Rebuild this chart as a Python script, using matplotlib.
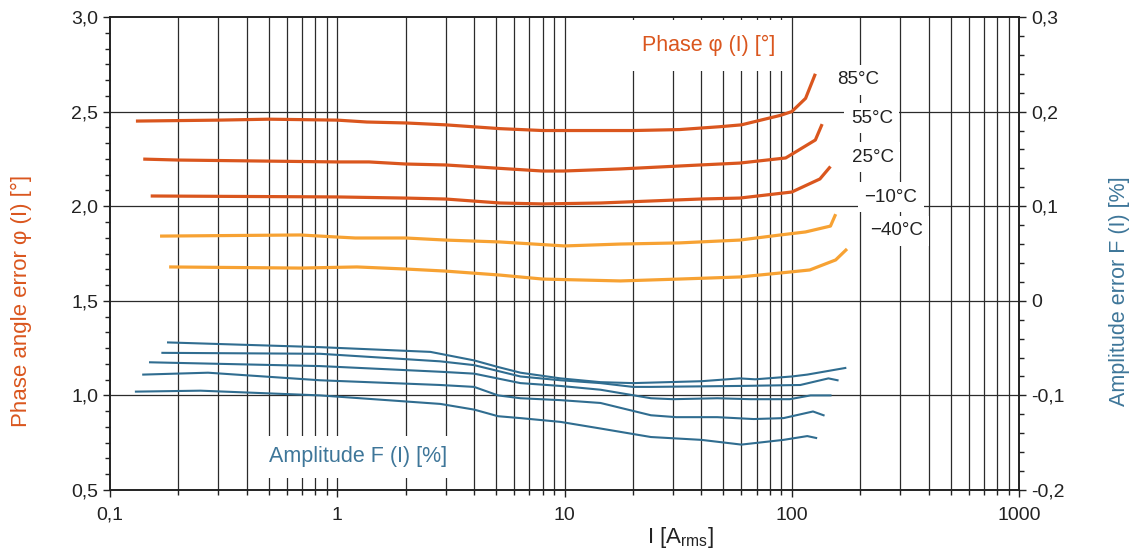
import matplotlib
matplotlib.use("Agg")
import matplotlib.pyplot as plt
import numpy as np
from matplotlib.ticker import FixedLocator, FuncFormatter, MultipleLocator, NullFormatter

plt.rcParams['font.family'] = ['Liberation Sans', 'DejaVu Sans']

# phase angle error curves (left axis, degrees)
i_85 = [0.13, 0.3, 0.5, 1.0, 1.35, 2, 3, 5.2, 8, 20, 32, 48, 60, 89, 100, 115, 127]
phi_85 = [2.45, 2.455, 2.46, 2.455, 2.445, 2.44, 2.43, 2.41, 2.40, 2.40, 2.405, 2.42, 2.43, 2.48, 2.50, 2.57, 2.70]

i_55 = [0.14, 0.2, 1.0, 1.38, 2, 3, 5.2, 8, 9.9, 17.6, 39.6, 59, 94, 127, 136]
phi_55 = [2.249, 2.244, 2.234, 2.234, 2.223, 2.218, 2.20, 2.186, 2.186, 2.197, 2.218, 2.228, 2.255, 2.35, 2.434]

i_25 = [0.151, 1.0, 2.0, 3, 5.2, 8, 14.4, 39.6, 59, 100, 133, 148]
phi_25 = [2.054, 2.049, 2.043, 2.038, 2.017, 2.012, 2.017, 2.038, 2.043, 2.075, 2.144, 2.21]

i_m10 = [0.166, 0.686, 1.0, 1.2, 2, 3, 5.2, 10, 17.6, 32, 59, 89, 115, 148, 156]
phi_m10 = [1.842, 1.848, 1.837, 1.832, 1.832, 1.821, 1.811, 1.79, 1.80, 1.806, 1.821, 1.848, 1.864, 1.895, 1.958]

i_m40 = [0.182, 0.686, 1.22, 2, 3, 5.2, 8, 17.6, 32, 59, 89, 120, 156, 175]
phi_m40 = [1.679, 1.673, 1.679, 1.668, 1.657, 1.636, 1.615, 1.605, 1.615, 1.626, 1.647, 1.663, 1.716, 1.774]

# amplitude error curves (right axis, %)
i_a = [0.18, 0.84, 2.57, 4.0, 5.1, 6.4, 9.6, 14.4, 20, 40, 59, 69, 100, 117, 172]
f_a = [-0.044, -0.049, -0.054, -0.063, -0.070, -0.076, -0.082, -0.086, -0.087, -0.085, -0.082, -0.083, -0.080, -0.078, -0.071]

i_b = [0.17, 0.84, 2.84, 4.0, 6.4, 9.6, 14.4, 20, 24, 59, 109, 145, 159]
f_b = [-0.055, -0.056, -0.064, -0.068, -0.080, -0.084, -0.087, -0.091, -0.091, -0.090, -0.089, -0.082, -0.084]

i_c = [0.15, 0.84, 2.84, 4.0, 6.4, 9.6, 14.4, 24, 30, 47, 66, 98, 121, 148]
f_c = [-0.065, -0.069, -0.075, -0.077, -0.087, -0.090, -0.094, -0.103, -0.104, -0.103, -0.104, -0.104, -0.100, -0.100]

i_d = [0.14, 0.27, 0.84, 2.84, 4.0, 5.1, 6.4, 9.6, 14.4, 24, 31, 47, 68, 92, 124, 138]
f_d = [-0.078, -0.076, -0.084, -0.089, -0.091, -0.100, -0.103, -0.105, -0.108, -0.121, -0.123, -0.123, -0.125, -0.124, -0.117, -0.121]

i_e = [0.13, 0.25, 0.84, 2.84, 4.0, 5.1, 6.4, 9.6, 14.4, 24, 40, 60, 92, 117, 128]
f_e = [-0.096, -0.095, -0.100, -0.109, -0.115, -0.122, -0.124, -0.128, -0.135, -0.144, -0.147, -0.152, -0.147, -0.143, -0.145]

temp_labels = ["85°C", "55°C", "25°C", "\u221210°C", "\u221240°C"]
x_ticks = [0.1, 1, 10, 100, 1000]
x_ticklabels = ["0,1", "1", "10", "100", "1000"]

DARK_OR = '#DA561E'
LIGHT_OR = '#F7A233'
BLUE = '#306D90'
BLUE_TXT = '#3E7699'
GRID = '#2b2b2b'

fig = plt.figure(figsize=(11.32, 5.56), dpi=100)
ax = fig.add_axes([0.0972, 0.1187, 0.9002 - 0.0972, 0.9694 - 0.1187])
ax.set_xscale('log')
ax.set_xlim(0.1, 1000)
ax.set_ylim(0.5, 3.0)

# grid: every log minor position and every 0.5 deg
vgrid = [m * 10.0 ** k for k in range(-1, 3) for m in range(1, 10)][1:]
for xv in vgrid:
    ax.axvline(xv, color=GRID, lw=0.9, zorder=1)
for yv in np.arange(1.0, 3.0, 0.5):
    ax.axhline(yv, color=GRID, lw=0.9, zorder=1)

for xs, ys, c in [(i_85, phi_85, DARK_OR), (i_55, phi_55, DARK_OR), (i_25, phi_25, DARK_OR),
                  (i_m10, phi_m10, LIGHT_OR), (i_m40, phi_m40, LIGHT_OR)]:
    ax.plot(xs, ys, color=c, lw=2.3, zorder=3, solid_capstyle='butt')

ax.xaxis.set_major_locator(FixedLocator(x_ticks))
ax.xaxis.set_major_formatter(FuncFormatter(lambda v, p: x_ticklabels[x_ticks.index(v)] if v in x_ticks else ''))
ax.xaxis.set_minor_locator(FixedLocator(vgrid))
ax.xaxis.set_minor_formatter(NullFormatter())
ax.yaxis.set_major_locator(MultipleLocator(0.5))
ax.yaxis.set_minor_locator(MultipleLocator(0.5 / 6))
ax.yaxis.set_major_formatter(FuncFormatter(lambda v, p: f"{v:.1f}".replace('.', ',')))
ax.tick_params(axis='both', which='major', direction='out', length=5, width=1, labelsize=14, colors='#222222')
ax.tick_params(axis='both', which='minor', direction='out', length=3.5, width=1, colors='#222222')
ax.tick_params(axis='x', pad=7)
for s in ax.spines.values():
    s.set_color('#222222')
    s.set_linewidth(1.2)

ax.set_ylabel("Phase angle error \u03c6 (I) [°]", color=DARK_OR, fontsize=16)
ax.yaxis.set_label_coords(-0.086, 0.40)
ax.set_xlabel(r"I [A$\mathregular{_{rms}}$]", fontsize=16, color='#222222')
ax.xaxis.set_label_coords(0.627, -0.075)

ax2 = ax.twinx()
ax2.set_ylim(-0.2, 0.3)
for xs, ys in [(i_a, f_a), (i_b, f_b), (i_c, f_c), (i_d, f_d), (i_e, f_e)]:
    ax2.plot(xs, ys, color=BLUE, lw=1.5, zorder=3)
ax2.yaxis.set_major_locator(MultipleLocator(0.1))
ax2.yaxis.set_minor_locator(MultipleLocator(0.02))
ax2.yaxis.set_major_formatter(FuncFormatter(lambda v, p: '0' if abs(v) < 1e-9 else f"{v:.1f}".replace('.', ',')))
ax2.tick_params(axis='y', which='major', direction='out', length=5, width=1, labelsize=14, colors='#222222')
ax2.tick_params(axis='y', which='minor', direction='out', length=3.5, width=1, colors='#222222')
for s in ax2.spines.values():
    s.set_color('#222222')
    s.set_linewidth(1.2)
ax2.set_ylabel("Amplitude error F (I) [%]", color=BLUE_TXT, fontsize=15.5, rotation=90)
ax2.yaxis.set_label_coords(1.099, 0.42)

# in-plot labels with white boxes that cut the grid
box = dict(facecolor='white', edgecolor='none', boxstyle='square,pad=0.35')
ax.text(0.658, 0.939, "Phase \u03c6 (I) [°]", transform=ax.transAxes, color=DARK_OR,
        fontsize=15.5, ha='center', va='center', bbox=dict(facecolor='white', edgecolor='none', boxstyle='square,pad=0.7'), zorder=4)
ax.text(0.273, 0.070, "Amplitude F (I) [%]", transform=ax.transAxes, color=BLUE_TXT,
        fontsize=15.5, ha='center', va='center', bbox=dict(facecolor='white', edgecolor='none', boxstyle='square,pad=0.5'), zorder=4)
lab_pos = [(0.823, 0.867), (0.838, 0.786), (0.839, 0.704), (0.859, 0.619), (0.865, 0.548)]
for txt, (px, py) in zip(temp_labels, lab_pos):
    ax.text(px, py, txt, transform=ax.transAxes, color='#222222', fontsize=13.5,
            ha='center', va='center', bbox=box, zorder=4)

fig.savefig("out.png", dpi=100)
